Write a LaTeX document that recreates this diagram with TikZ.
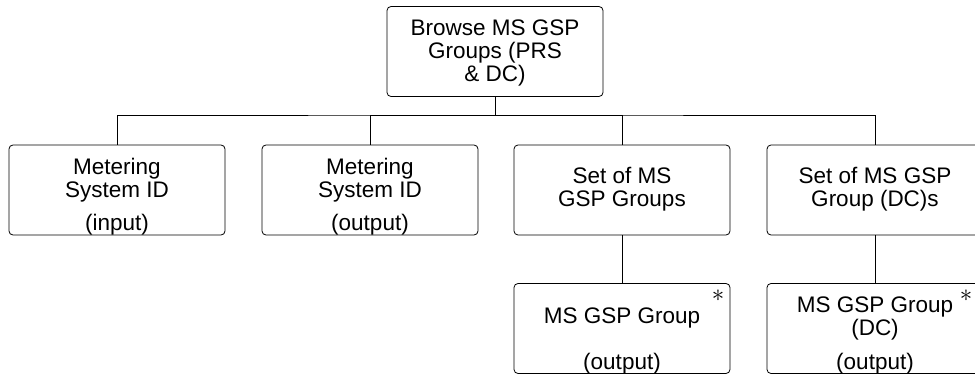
\documentclass[tikz,border=0pt]{standalone}
\usepackage{fontspec}
\setmainfont{Liberation Sans}
\usepackage{tikz}
\usetikzlibrary{calc}

\tikzset{
  procbox/.style={draw,rounded corners=4pt,line width=0.8pt,minimum width=216pt,minimum height=90pt,inner sep=0pt},
  boxtext/.style={align=center,inner sep=0pt,font=\fontsize{22.5}{23}\selectfont},
  star/.style={inner sep=0pt,font=\fontsize{26}{26}\selectfont}
}

\begin{document}
\begin{tikzpicture}[x=1pt,y=-1pt,line width=0.8pt]
  \clip (0,0) rectangle (975,377);
  \fill[white] (0,0) rectangle (975,377);

  % top level
  \node[procbox] (browse) at (495,51.5) {};
  \node[boxtext,anchor=base] (browseT) at (495,82) {Browse MS GSP\\Groups (PRS\\\& DC)};

  % second row
  \node[procbox] (msidIn)  at (117,190) {};
  \node[procbox] (msidOut) at (370,190) {};
  \node[procbox] (setGrp)  at (622,190) {};
  \node[procbox] (setDC)   at (875,190) {};

  \node[boxtext,anchor=base] (msidInT)  at (117,197) {Metering\\System ID};
  \node[boxtext,anchor=base] (msidInIO) at (117,230) {(input)};
  \node[boxtext,anchor=base] (msidOutT)  at (370,197) {Metering\\System ID};
  \node[boxtext,anchor=base] (msidOutIO) at (370,230) {(output)};
  \node[boxtext,anchor=base] (setGrpT) at (622,207) {Set of MS\\GSP Groups};
  \node[boxtext,anchor=base] (setDCT)  at (875,207) {Set of MS GSP\\Group (DC)s};

  % third row
  \node[procbox] (grp)   at (622,328.5) {};
  \node[procbox] (grpDC) at (875,328.5) {};

  \node[boxtext,anchor=base] (grpT)  at (622,323) {MS GSP Group};
  \node[boxtext,anchor=base] (grpIO) at (622,369) {(output)};
  \node[boxtext,anchor=base] (grpDCT)  at (875,335) {MS GSP Group\\(DC)};
  \node[boxtext,anchor=base] (grpDCIO) at (875,369) {(output)};

  \node[star] (grpS)   at (718,296) {$\ast$};
  \node[star] (grpDCS) at (966,296) {$\ast$};

  % connectors
  \coordinate (bus) at (495,115);
  \draw (browse.south) -- (bus);
  \draw (msidIn.north) |- (bus) -| (setDC.north);
  \draw (bus) -| (msidOut.north);
  \draw (bus) -| (setGrp.north);
  \draw (setGrp.south) -- (grp.north);
  \draw (setDC.south) -- (grpDC.north);
\end{tikzpicture}
\end{document}
